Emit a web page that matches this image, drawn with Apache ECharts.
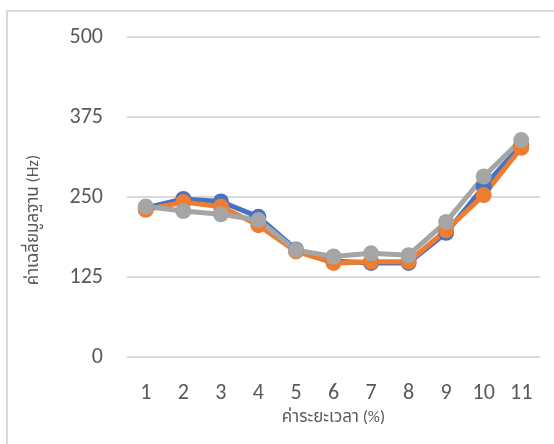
<!DOCTYPE html>
<html>
<head>
<meta charset="utf-8">
<script src="https://cdn.jsdelivr.net/npm/echarts@6/dist/echarts.min.js"></script>
<style>
    html, body { margin: 0; padding: 0; background: #fff; }
    #chart { width: 554px; height: 444px; }
</style>
</head>
<body>
<div id="chart"></div>
<script>
const categories = ['1', '2', '3', '4', '5', '6', '7', '8', '9', '10', '11']
const blueValues = [233, 247, 243, 219, 168, 150, 147, 147, 194, 266, 331]
const orangeValues = [230, 242, 235, 206, 165, 147, 149, 149, 198, 253, 327]
const grayValues = [235, 228, 223, 214, 167, 157, 162, 159, 211, 282, 339]
const yTicks = [0, 125, 250, 375, 500]

const textColor = '#595959'
const font = "Calibri, Carlito, 'Liberation Sans', 'Noto Sans', 'Noto Sans Thai', sans-serif"

const makeSeries = (data, color) => ({
    type: 'line',
    data: data,
    symbol: 'circle',
    symbolSize: 16,
    lineStyle: { width: 5, color: color },
    itemStyle: { color: color },
    animation: false
})

const option = {
    backgroundColor: '#fff',
    animation: false,
    graphic: [{
        type: 'rect',
        shape: { x: 7, y: 11, width: 700, height: 600 },
        style: { fill: 'none', stroke: '#d9d9d9', lineWidth: 2 },
        silent: true
    }, {
        // y axis title, placed a bit lower than the grid centre like the original
        type: 'text',
        x: 34,
        y: 220,
        rotation: Math.PI / 2,
        style: {
            text: 'ค่าเฉลี่ยมูลฐาน (Hz)',
            fill: textColor,
            fontSize: 17,
            fontFamily: font,
            align: 'center',
            verticalAlign: 'middle'
        },
        silent: true
    }],
    grid: {
        left: 127,
        right: 14,
        top: 37,
        bottom: 87
    },
    xAxis: {
        type: 'category',
        data: categories,
        boundaryGap: true,
        axisLine: { show: false },
        axisTick: { show: false },
        axisLabel: { color: textColor, fontSize: 22, fontFamily: font, margin: 25 },
        name: 'ค่าระยะเวลา (%)',
        nameLocation: 'middle',
        nameGap: 47,
        nameTextStyle: { color: textColor, fontSize: 17, fontFamily: font }
    },
    yAxis: {
        type: 'value',
        min: yTicks[0],
        max: yTicks[yTicks.length - 1],
        interval: 125,
        axisLine: { show: false },
        axisTick: { show: false },
        splitLine: { lineStyle: { color: '#d9d9d9', width: 2 } },
        axisLabel: { color: textColor, fontSize: 22, fontFamily: font, margin: 24 }
    },
    series: [
        makeSeries(blueValues, '#4472C4'),
        makeSeries(orangeValues, '#ED7D31'),
        makeSeries(grayValues, '#A5A5A5')
    ]
}

const myChart = echarts.init(document.getElementById('chart'))
myChart.setOption(option)
window.addEventListener('resize', () => {
    myChart.resize()
})
</script>
</body>
</html>
